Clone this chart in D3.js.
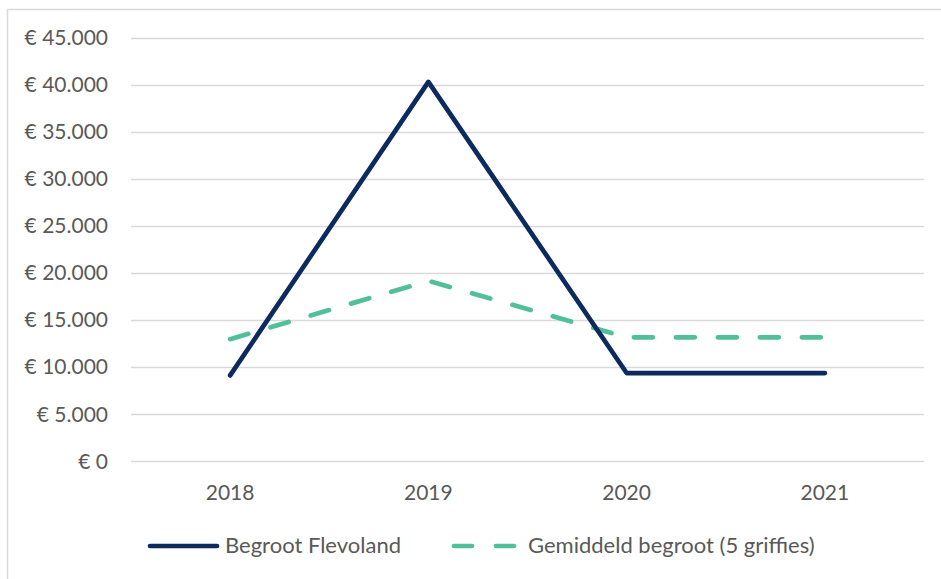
<!DOCTYPE html>
<html>
<head>
<meta charset="utf-8">
<script src="https://cdn.jsdelivr.net/npm/d3@7"></script>
<style>
  body { margin: 0; background: #fff; }
  text { font-family: Lato, "Open Sans", sans-serif; fill: #595959; }
</style>
</head>
<body>
<div class="canvas"></div>
<script>
// data
const years = ['2018', '2019', '2020', '2021'];
const flevoland = [9100, 40300, 9350, 9350];
const gemiddeld = [12950, 19150, 13150, 13150];
const yTicks = [0, 5000, 10000, 15000, 20000, 25000, 30000, 35000, 40000, 45000];
const seriesNames = ['Begroot Flevoland', 'Gemiddeld begroot (5 griffies)'];

const width = 941, height = 579;
const svg = d3.select('.canvas')
    .append('svg')
    .attr('width', width)
    .attr('height', height);

// chart frame
svg.append('rect')
    .attr('x', 7.5).attr('y', 9.5)
    .attr('width', 945).attr('height', 580)
    .attr('fill', 'none')
    .attr('stroke', '#d9d9d9')
    .attr('stroke-width', 1.5);

const x = d3.scalePoint()
    .domain(years)
    .range([131, 924])
    .padding(0.5);

const y = d3.scaleLinear()
    .domain([0, 45000])
    .range([461, 37.7]);

// gridlines
svg.append('g').selectAll('line')
    .data(yTicks)
    .enter().append('line')
    .attr('x1', 131).attr('x2', 924)
    .attr('y1', d => Math.round(y(d)) + 0.5)
    .attr('y2', d => Math.round(y(d)) + 0.5)
    .attr('stroke', '#d9d9d9')
    .attr('stroke-width', 1.3);

const fmt = d => '€ ' + d3.format(',')(d).replace(/,/g, '.');

// y axis labels
svg.append('g').selectAll('text')
    .data(yTicks)
    .enter().append('text')
    .attr('x', 108)
    .attr('y', d => y(d))
    .attr('dy', '0.36em')
    .attr('text-anchor', 'end')
    .style('font-size', '21px')
    .text(fmt);

// x axis labels
svg.append('g').selectAll('text')
    .data(years)
    .enter().append('text')
    .attr('x', d => x(d))
    .attr('y', 500)
    .attr('text-anchor', 'middle')
    .style('font-size', '21px')
    .text(d => d);

const line = d3.line()
    .x((d, i) => x(years[i]))
    .y(d => y(d));

svg.append('path')
    .datum(gemiddeld)
    .attr('d', line)
    .attr('fill', 'none')
    .attr('stroke', '#52bf9b')
    .attr('stroke-width', 4.7)
    .attr('stroke-linecap', 'round')
    .attr('stroke-linejoin', 'round')
    .attr('stroke-dasharray', '19,23');

svg.append('path')
    .datum(flevoland)
    .attr('d', line)
    .attr('fill', 'none')
    .attr('stroke', '#0c2a5e')
    .attr('stroke-width', 4.7)
    .attr('stroke-linecap', 'round')
    .attr('stroke-linejoin', 'round');

// legend
const legend = svg.append('g');
legend.append('line')
    .attr('x1', 150).attr('x2', 217)
    .attr('y1', 546).attr('y2', 546)
    .attr('stroke', '#0c2a5e')
    .attr('stroke-width', 4.7)
    .attr('stroke-linecap', 'round');
legend.append('text')
    .attr('x', 225).attr('y', 553)
    .style('font-size', '22px')
    .text(seriesNames[0]);
legend.append('line')
    .attr('x1', 454).attr('x2', 514)
    .attr('y1', 546).attr('y2', 546)
    .attr('stroke', '#52bf9b')
    .attr('stroke-width', 4.7)
    .attr('stroke-linecap', 'round')
    .attr('stroke-dasharray', '18,24');
legend.append('text')
    .attr('x', 528).attr('y', 553)
    .style('font-size', '22px')
    .text(seriesNames[1]);
</script>
</body>
</html>
